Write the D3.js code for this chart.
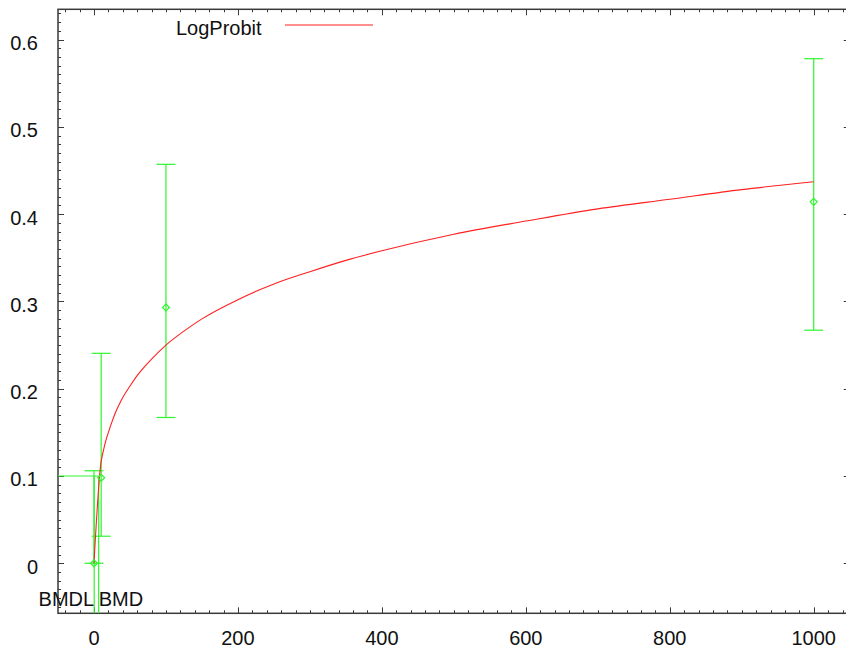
<!DOCTYPE html>
<html>
<head>
<meta charset="utf-8">
<script src="https://cdn.jsdelivr.net/npm/d3@7"></script>
<style>
  body { margin: 0; background: #fff; }
  svg text { font-family: "Liberation Sans", Arial, sans-serif; font-size: 20px; fill: #111; }
</style>
</head>
<body>
<div id="chart"></div>
<script>
// observed dose groups: mean response with lower / upper bounds
const doses  = [0, 10, 100, 1000];
const means  = [0, 0.098, 0.293, 0.414];
const lowers = [0, 0.031, 0.167, 0.267];
const uppers = [0.106, 0.2405, 0.457, 0.578];

// fitted LogProbit curve
const curveDose = [0, 10, 12, 15, 20, 25, 30, 35, 40, 50, 60, 70, 80, 100, 125, 150, 200, 250, 300, 350, 400, 500, 600, 700, 800, 900, 1000];
const curveResp = [0, 0.117, 0.125, 0.136, 0.150, 0.162, 0.173, 0.182, 0.190, 0.203, 0.215, 0.225, 0.234, 0.250, 0.266, 0.280, 0.302, 0.320, 0.334, 0.347, 0.358, 0.377, 0.392, 0.406, 0.417, 0.428, 0.437];

const BMR  = 0.1;
const BMDL = 0.3;
const BMD  = 6.5;

const xTicks = [0, 200, 400, 600, 800, 1000];
const yTicks = [0, 0.1, 0.2, 0.3, 0.4, 0.5, 0.6];

const W = 846, H = 648;
const PLOT = { left: 58, right: 849.7, top: 9.3, bottom: 613.3 };
const GREEN = "#2ef52e";
const RED   = "#ff2020";
const AXIS  = "#3a3a3a";

const svg = d3.select("#chart").append("svg")
  .attr("width", W).attr("height", H);

const x = d3.scaleLinear().domain([-50, 1050]).range([PLOT.left, PLOT.right]);
const y = d3.scaleLinear().domain([-0.0573, 0.6346]).range([PLOT.bottom, PLOT.top]);

// ── ticks on all four sides (inward) ──
const xMinor = d3.range(-40, 1050, 20);
const yMinor = d3.range(-5, 64).map(i => i / 100);
const isMajorX = v => v % 200 === 0;
const isMajorY = v => Math.abs(Math.round(v * 10) - v * 10) < 1e-6;

const tickG = svg.append("g").attr("stroke", AXIS).attr("stroke-width", 1);
xMinor.forEach(v => {
  const len = isMajorX(v) ? 6 : 3;
  const px = Math.round(x(v)) + 0.5;
  tickG.append("line").attr("x1", px).attr("x2", px)
    .attr("y1", PLOT.bottom).attr("y2", PLOT.bottom - len);
  tickG.append("line").attr("x1", px).attr("x2", px)
    .attr("y1", PLOT.top).attr("y2", PLOT.top + len);
});
yMinor.forEach(v => {
  const len = isMajorY(v) ? 6 : 3;
  const py = Math.round(y(v)) + 0.5;
  tickG.append("line").attr("x1", PLOT.left).attr("x2", PLOT.left + len)
    .attr("y1", py).attr("y2", py);
  tickG.append("line").attr("x1", PLOT.right).attr("x2", PLOT.right - len)
    .attr("y1", py).attr("y2", py);
});

// frame
svg.append("rect")
  .attr("x", PLOT.left).attr("y", PLOT.top)
  .attr("width", PLOT.right - PLOT.left).attr("height", PLOT.bottom - PLOT.top)
  .attr("fill", "none").attr("stroke", AXIS).attr("stroke-width", 1.5);

// tick labels
svg.append("g").selectAll("text")
  .data(xTicks).join("text")
  .attr("x", d => x(d)).attr("y", 645)
  .attr("text-anchor", "middle")
  .text(d => d);

svg.append("g").selectAll("text")
  .data(yTicks).join("text")
  .attr("x", 38).attr("y", d => y(d) + 10.5)
  .attr("text-anchor", "end")
  .text(d => d === 0 ? "0" : d.toFixed(1));

// ── BMD markers ──
const bmdG = svg.append("g").attr("stroke", GREEN).attr("stroke-width", 1.2).attr("fill", "none");
bmdG.append("line")
  .attr("x1", PLOT.left).attr("x2", x(BMD))
  .attr("y1", y(BMR)).attr("y2", y(BMR));
bmdG.append("line")
  .attr("x1", x(BMD)).attr("x2", x(BMD))
  .attr("y1", y(BMR)).attr("y2", PLOT.bottom);
bmdG.append("line")
  .attr("x1", x(BMDL)).attr("x2", x(BMDL))
  .attr("y1", y(BMR)).attr("y2", PLOT.bottom);

svg.append("text").attr("x", x(BMDL)).attr("y", 606)
  .attr("text-anchor", "end").text("BMDL");
svg.append("text").attr("x", x(BMD)).attr("y", 606)
  .attr("text-anchor", "start").text("BMD");

// ── error bars ──
const groups = doses.map((d, i) => ({ dose: d, mean: means[i], lo: lowers[i], hi: uppers[i] }));
const CAP = 9.5;
const errG = svg.append("g").attr("stroke", GREEN).attr("stroke-width", 1.2).attr("fill", "none");
groups.forEach(g => {
  const px = x(g.dose);
  errG.append("line").attr("x1", px).attr("x2", px).attr("y1", y(g.lo)).attr("y2", y(g.hi));
  errG.append("line").attr("x1", px - CAP).attr("x2", px + CAP).attr("y1", y(g.hi)).attr("y2", y(g.hi));
  errG.append("line").attr("x1", px - CAP).attr("x2", px + CAP).attr("y1", y(g.lo)).attr("y2", y(g.lo));
});

// ── fitted curve ──
const curve = curveDose.map((d, i) => [d, curveResp[i]]);
svg.append("path")
  .datum(curve)
  .attr("fill", "none")
  .attr("stroke", RED)
  .attr("stroke-width", 1.1)
  .attr("d", d3.line().x(d => x(d[0])).y(d => y(d[1])).curve(d3.curveMonotoneX));

// diamonds on means
svg.append("g").selectAll("path")
  .data(groups).join("path")
  .attr("transform", d => `translate(${x(d.dose)},${y(d.mean)})`)
  .attr("d", "M0,-3.5L3.5,0L0,3.5L-3.5,0Z")
  .attr("fill", "none")
  .attr("stroke", GREEN)
  .attr("stroke-width", 1.2);

// ── legend ──
svg.append("text").attr("x", 176).attr("y", 35).text("LogProbit");
svg.append("line")
  .attr("x1", 285).attr("x2", 373).attr("y1", 25).attr("y2", 25)
  .attr("stroke", RED).attr("stroke-width", 1.1);
</script>
</body>
</html>
